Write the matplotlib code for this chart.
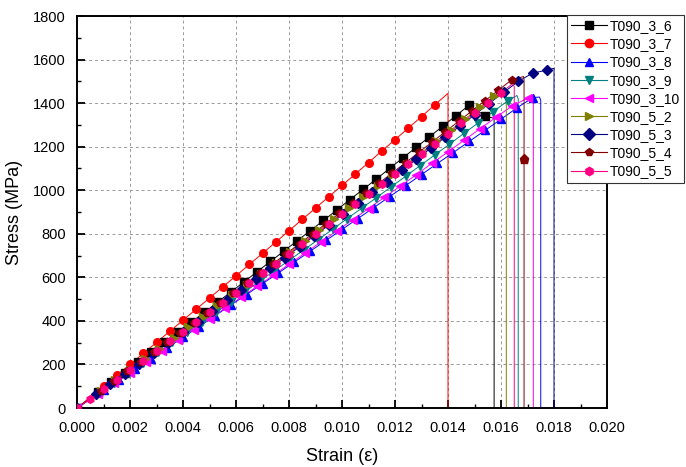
import numpy as np
import matplotlib.pyplot as plt

plt.rcParams['font.family'] = ['Liberation Sans', 'DejaVu Sans']

# strain in units of 1e-3, stress in MPa (marker points)
names = ['T090_3_6', 'T090_3_7', 'T090_3_8', 'T090_3_9', 'T090_3_10',
         'T090_5_2', 'T090_5_3', 'T090_5_4', 'T090_5_5']
colors = ['#000000', '#FF0000', '#0000FF', '#008080', '#FF00FF',
          '#808000', '#000080', '#800000', '#FF0080']
markers = ['s', 'o', '^', 'v', '<', '>', 'D', 'p', 'h']

eps_3_6 = [0, 0.8, 1.3, 1.8, 2.3, 2.8, 3.3, 3.8, 4.3, 4.8, 5.3, 5.8, 6.3, 6.8, 7.3, 7.8, 8.3,
           8.8, 9.3, 9.8, 10.3, 10.8, 11.3, 11.8, 12.3, 12.8, 13.3, 13.8, 14.3, 14.8, 15.4]
sig_3_6 = [0, 72, 118, 163, 209, 255, 301, 347, 393, 439, 486, 532, 579, 626, 673, 720, 767,
           814, 861, 909, 957, 1004, 1052, 1100, 1149, 1197, 1245, 1294, 1342, 1391, 1341]

eps_3_7 = [0, 1.0, 1.5, 2.0, 2.5, 3.0, 3.5, 4.0, 4.5, 5.0, 5.5, 6.0, 6.5, 7.0, 7.5, 8.0, 8.5,
           9.0, 9.5, 10.0, 10.5, 11.0, 11.5, 12.0, 12.5, 13.0, 13.5]
sig_3_7 = [0, 100, 150, 200, 251, 301, 352, 403, 454, 505, 556, 607, 659, 710, 762, 814, 866,
           918, 970, 1022, 1074, 1127, 1180, 1232, 1285, 1338, 1392]

eps_3_8 = [0, 1.0, 1.6, 2.2, 2.8, 3.4, 4.0, 4.6, 5.2, 5.8, 6.4, 7.0, 7.6, 8.2, 8.8, 9.4, 10.0,
           10.6, 11.2, 11.8, 12.4, 13.0, 13.6, 14.2, 14.8, 15.4, 16.0, 16.6, 17.2]
sig_3_8 = [0, 81, 129, 178, 227, 275, 324, 373, 423, 472, 521, 571, 620, 670, 720, 770, 820,
           870, 920, 971, 1021, 1072, 1123, 1173, 1224, 1275, 1326, 1378, 1425]

eps_3_9 = [0, 0.85, 1.4, 1.95, 2.5, 3.05, 3.6, 4.15, 4.7, 5.25, 5.8, 6.35, 6.9, 7.45, 8.0, 8.55,
           9.1, 9.65, 10.2, 10.75, 11.3, 11.85, 12.4, 12.95, 13.5, 14.05, 14.6, 15.15, 15.7, 16.25]
sig_3_9 = [0, 70, 116, 162, 208, 255, 301, 348, 394, 441, 488, 535, 583, 630, 678, 725,
           773, 821, 870, 918, 966, 1015, 1064, 1113, 1162, 1211, 1261, 1310, 1360, 1410]

eps_3_10 = [0, 0.8, 1.4, 2.0, 2.6, 3.2, 3.8, 4.4, 5.0, 5.6, 6.2, 6.8, 7.4, 8.0, 8.6, 9.2, 9.8,
            10.4, 11.0, 11.6, 12.2, 12.8, 13.4, 14.0, 14.6, 15.2, 15.8, 16.4, 17.0]
sig_3_10 = [0, 65, 113, 162, 211, 260, 310, 359, 409, 459, 509, 559, 609, 660, 711, 762, 813,
            864, 916, 967, 1019, 1071, 1124, 1176, 1229, 1281, 1334, 1385, 1423]

eps_5_2 = [0, 0.9, 1.45, 2.0, 2.55, 3.1, 3.65, 4.2, 4.75, 5.3, 5.85, 6.4, 6.95, 7.5, 8.05, 8.6,
           9.15, 9.7, 10.25, 10.8, 11.35, 11.9, 12.45, 13.0, 13.55, 14.1, 14.65, 15.2, 15.75]
sig_5_2 = [0, 79, 127, 175, 224, 272, 321, 370, 419, 468, 518, 567, 617, 667, 717, 767,
           817, 867, 918, 969, 1020, 1071, 1122, 1173, 1225, 1276, 1328, 1380, 1432]

eps_5_3 = [0, 0.7, 1.25, 1.8, 2.35, 2.9, 3.45, 4.0, 4.55, 5.1, 5.65, 6.2, 6.75, 7.3, 7.85, 8.4,
           8.95, 9.5, 10.05, 10.6, 11.15, 11.7, 12.25, 12.8, 13.35, 13.9, 14.45, 15.0, 15.55,
           16.1, 16.65, 17.2, 17.75]
sig_5_3 = [0, 62, 110, 156, 203, 252, 300, 348, 396, 445, 494, 543, 592, 641, 691, 740,
           790, 840, 890, 940, 990, 1040, 1091, 1142, 1193, 1244, 1295, 1346, 1398,
           1449, 1500, 1538, 1552]

eps_5_4 = [0, 0.9, 1.4, 1.9, 2.4, 2.9, 3.4, 3.9, 4.4, 4.9, 5.4, 5.9, 6.4, 6.9, 7.4, 7.9, 8.4,
           8.9, 9.4, 9.9, 10.4, 10.9, 11.4, 11.9, 12.4, 12.9, 13.4, 13.9, 14.4, 14.9, 15.4,
           15.9, 16.4]
sig_5_4 = [0, 79, 123, 168, 212, 257, 301, 346, 391, 436, 481, 527, 572, 618, 663, 709, 755,
           801, 847, 894, 940, 987, 1033, 1080, 1127, 1174, 1221, 1269, 1316, 1364, 1411,
           1459, 1507]

eps_5_5 = [0, 0.5, 1.0, 1.5, 2.0, 2.5, 3.0, 3.5, 4.0, 4.5, 5.0, 5.5, 6.0, 6.5, 7.0, 7.5, 8.0,
           8.5, 9.0, 9.5, 10.0, 10.5, 11.0, 11.5, 12.0, 12.5, 13.0, 13.5, 14.0, 14.5, 15.0,
           15.5, 16.0]
sig_5_5 = [0, 43, 87, 130, 174, 218, 262, 306, 350, 394, 439, 483, 528, 573, 618, 663, 708,
           753, 799, 844, 890, 936, 982, 1028, 1074, 1120, 1167, 1213, 1260, 1307, 1354,
           1401, 1448]

marker_eps = [eps_3_6, eps_3_7, eps_3_8, eps_3_9, eps_3_10, eps_5_2, eps_5_3, eps_5_4, eps_5_5]
marker_sig = [sig_3_6, sig_3_7, sig_3_8, sig_3_9, sig_3_10, sig_5_2, sig_5_3, sig_5_4, sig_5_5]

# last point of each curve before failure, and strain where the curve drops
peak_eps = [15.74, 14.0, 17.45, 16.6, 17.2, 16.1, 18.0, 16.85, 16.45]
peak_sig = [1330, 1445, 1428, 1435, 1428, 1466, 1560, 1522, 1490]
fail_eps = [15.74, 14.0, 17.5, 16.65, 17.22, 16.2, 18.0, 16.87, 16.5]

# stray point on the T090_5_4 drop
extra_eps = 16.87
extra_sig = 1143

fig = plt.figure(figsize=(6.86, 4.67), dpi=100)
ax = fig.add_axes([77 / 686, 59 / 467, 530 / 686, 392 / 467])

for i in range(len(names)):
    ex = np.array(marker_eps[i] + [peak_eps[i], fail_eps[i], fail_eps[i]]) / 1000
    sy = np.array(marker_sig[i] + [peak_sig[i], peak_sig[i] - 15, 0])
    ax.plot(ex, sy, color=colors[i], lw=0.7, zorder=2)
    ax.plot(np.array(marker_eps[i]) / 1000, marker_sig[i], ls='none', marker=markers[i],
            ms=5.5, color=colors[i], mec=colors[i], zorder=3)
    ax.plot([], [], color=colors[i], lw=0.8, marker=markers[i], ms=6, label=names[i])

ax.plot(extra_eps / 1000, extra_sig, ls='none', marker='p', ms=6.5, color='#800000', zorder=3)

ax.set_xlim(0, 0.020)
ax.set_ylim(0, 1800)
ax.set_xticks(np.arange(0, 0.0201, 0.002))
ax.set_xticks(np.arange(0, 0.0201, 0.001), minor=True)
ax.set_yticks(np.arange(0, 1801, 200))
ax.set_yticks(np.arange(0, 1801, 100), minor=True)
ax.xaxis.set_major_formatter(plt.FormatStrFormatter('%.3f'))
ax.tick_params(which='major', direction='in', length=6, width=1.3, labelsize=10.5,
               top=False, right=False)
ax.tick_params(axis='x', which='major', pad=9)
ax.tick_params(axis='y', which='major', pad=8)
ax.tick_params(which='minor', direction='in', length=3, width=1.0, top=False, right=False)
ax.grid(True, which='major', ls=(0, (3, 3)), color='#999999', lw=0.7)
for s in ax.spines.values():
    s.set_linewidth(1.4)

ax.set_xlabel('Strain (ε)', fontsize=13, labelpad=10)
ax.set_ylabel('Stress (MPa)', fontsize=13, labelpad=7)

leg = fig.legend(loc='upper left', bbox_to_anchor=(567 / 686, 1 - 15 / 467), fontsize=10,
                 frameon=True, fancybox=False, edgecolor='#333333', framealpha=1,
                 handlelength=2.6, handletextpad=0.2, labelspacing=0.3, borderpad=0.3,
                 borderaxespad=0)
leg.get_frame().set_linewidth(0.8)

fig.savefig('out.png', dpi=100)
